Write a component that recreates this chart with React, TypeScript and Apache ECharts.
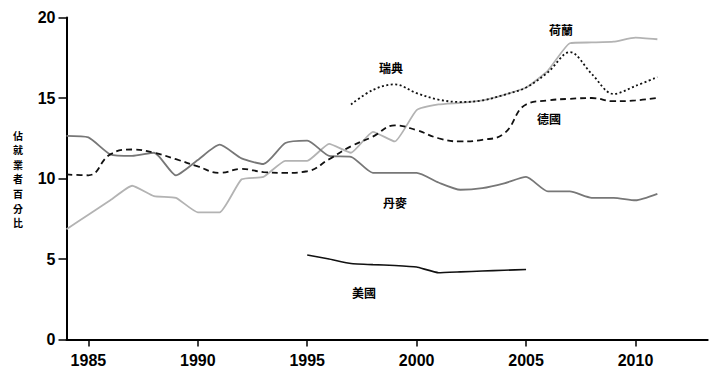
import React, { useEffect, useRef } from "react";
import * as echarts from "echarts";

const years = [1984, 1985, 1986, 1987, 1988, 1989, 1990, 1991, 1992, 1993, 1994, 1995, 1996, 1997, 1998, 1999, 2000, 2001, 2002, 2003, 2004, 2005, 2006, 2007, 2008, 2009, 2010, 2011];

const netherlands = [6.85, 7.75, 8.65, 9.55, 8.9, 8.8, 7.9, 7.9, 9.95, 10.1, 11.1, 11.1, 12.15, 11.6, 12.9, 12.3, 14.25, 14.6, 14.7, 14.85, 15.2, 15.65, 16.7, 18.4, 18.45, 18.5, 18.75, 18.65];
const denmark = [12.65, 12.55, 11.5, 11.4, 11.6, 10.2, 11.15, 12.1, 11.25, 10.9, 12.2, 12.35, 11.4, 11.35, 10.35, 10.35, 10.35, 9.75, 9.3, 9.4, 9.7, 10.1, 9.2, 9.2, 8.8, 8.8, 8.65, 9.05];
const germany = [10.25, 10.2, 11.5, 11.8, 11.6, 11.2, 10.75, 10.35, 10.6, 10.4, 10.35, 10.45, 11.2, 12.0, 12.6, 13.3, 13.0, 12.5, 12.3, 12.4, 12.8, 14.6, 14.85, 14.95, 15.0, 14.8, 14.85, 15.0];
const swedenYears = [1997, 1998, 1999, 2000, 2001, 2002, 2003, 2004, 2005, 2006, 2007, 2008, 2009, 2010, 2011];
const sweden = [14.6, 15.5, 15.85, 15.3, 14.9, 14.75, 14.85, 15.2, 15.65, 16.6, 17.85, 16.5, 15.25, 15.75, 16.3];
const usaYears = [1995, 1996, 1997, 1998, 1999, 2000, 2001, 2002, 2003, 2004, 2005];
const usa = [5.25, 5.0, 4.72, 4.65, 4.6, 4.5, 4.15, 4.2, 4.25, 4.3, 4.35];

const xTicks = [1985, 1990, 1995, 2000, 2005, 2010];
const yAxisTitle = "佔就業者百分比";

const seriesLabels = [
  { text: "荷蘭", x: 561, y: 29 },
  { text: "瑞典", x: 391, y: 67 },
  { text: "德國", x: 549, y: 118 },
  { text: "丹麥", x: 395, y: 202 },
  { text: "美國", x: 364, y: 292 },
];

const pair = (xs: number[], ys: number[]) => xs.map((x, i) => [x, ys[i]]);

export default function App() {
  const ref = useRef<HTMLDivElement>(null);
  useEffect(() => {
    if (!ref.current) return;
    const chart = echarts.init(ref.current, null, { renderer: "svg" });
    const cjk = '"Noto Sans CJK TC", "Noto Sans CJK SC", sans-serif';
    const numFont = '"Liberation Sans", Arial, sans-serif';
    chart.setOption({
      animation: false,
      backgroundColor: "#ffffff",
      grid: { left: 66.5, right: 13.3, top: 17.5, bottom: 45.5 },
      xAxis: {
        type: "value",
        min: 1984,
        max: 2013.3,
        splitLine: { show: false },
        axisLine: { show: true, lineStyle: { color: "#000", width: 2 } },
        axisTick: { show: true, customValues: xTicks, length: 7, lineStyle: { color: "#000", width: 1.5 } },
        axisLabel: {
          customValues: xTicks,
          formatter: (v: number) => String(v),
          color: "#000",
          fontFamily: numFont,
          fontWeight: "bold",
          fontSize: 16,
          margin: 13,
        },
      },
      yAxis: {
        type: "value",
        min: 0,
        max: 20,
        interval: 5,
        splitLine: { show: false },
        axisLine: { show: true, lineStyle: { color: "#000", width: 2 } },
        axisTick: { show: true, length: 8, lineStyle: { color: "#000", width: 1.5 } },
        axisLabel: {
          color: "#000",
          fontFamily: numFont,
          fontWeight: "bold",
          fontSize: 16,
          margin: 11,
        },
      },
      series: [
        {
          name: "荷蘭",
          type: "line",
          data: pair(years, netherlands),
          symbol: "none",
          smooth: 0.15,
          lineStyle: { color: "#b3b3b3", width: 1.8 },
        },
        {
          name: "丹麥",
          type: "line",
          data: pair(years, denmark),
          symbol: "none",
          smooth: 0.2,
          lineStyle: { color: "#777777", width: 1.8 },
        },
        {
          name: "德國",
          type: "line",
          data: pair(years, germany),
          symbol: "none",
          smooth: 0.45,
          lineStyle: { color: "#111", width: 1.8, type: [6, 4] },
        },
        {
          name: "瑞典",
          type: "line",
          data: pair(swedenYears, sweden),
          symbol: "none",
          smooth: 0.35,
          lineStyle: { color: "#111", width: 1.8, type: [2, 2.5] },
        },
        {
          name: "美國",
          type: "line",
          data: pair(usaYears, usa),
          symbol: "none",
          smooth: 0.1,
          lineStyle: { color: "#111", width: 1.6 },
        },
      ],
      graphic: [
        ...seriesLabels.map((l) => ({
          type: "text",
          x: l.x,
          y: l.y,
          style: {
            text: l.text,
            fill: "#000",
            font: `bold 12px ${cjk}`,
            align: "center",
            verticalAlign: "middle",
          },
        })),
        ...yAxisTitle.split("").map((ch, i) => ({
          type: "text",
          x: 18,
          y: 135 + i * 14.6,
          style: {
            text: ch,
            fill: "#000",
            font: `bold 10px ${cjk}`,
            align: "center",
            verticalAlign: "middle",
          },
        })),
      ],
    });
    return () => chart.dispose();
  }, []);
  return (
    <div
      ref={ref}
      style={{ position: "fixed", left: 0, top: 0, width: 721, height: 385, background: "#fff" }}
    />
  );
}
